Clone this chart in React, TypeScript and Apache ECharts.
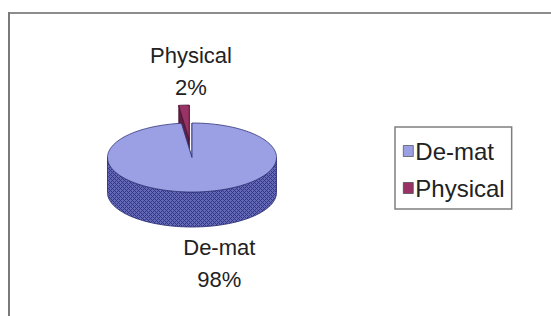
import React, { useEffect, useRef } from "react";
import * as echarts from "echarts";

// ---- data ----
const categories = ["De-mat", "Physical"];
const values = [98, 2];
const explodedSlices = ["Physical"];

// ---- style / layout ----
const FONT = "'Liberation Sans', Arial, Helvetica, sans-serif";
const TOP_COLORS = ["#9ba0e4", "#993366"];
const SIDE_COLORS = ["#4d519c", "#5e1f40"];
const SIDE_HATCH = [
  ["#6468b8", "#34377e"],
  ["#7a2a52", "#4a1030"],
];
const EDGE_COLORS = ["#2e3175", "#4a1030"];
const PIE = { cx: 192, cy: 157.5, rx: 84.5, ry: 34.5, depth: 35, explode: 0.52 };
const LABEL_NUDGE = { front: [22, 5], back: [7, -2] };

const TAU = Math.PI * 2;

function hatchFill(i: number): any {
  try {
    const c = document.createElement("canvas");
    c.width = 4;
    c.height = 4;
    const ctx = c.getContext("2d");
    if (!ctx) return SIDE_COLORS[i];
    ctx.fillStyle = SIDE_HATCH[i][0];
    ctx.fillRect(0, 0, 4, 4);
    ctx.fillStyle = SIDE_HATCH[i][1];
    // diamond cross-hatch
    ctx.fillRect(0, 0, 1, 1);
    ctx.fillRect(1, 1, 1, 1);
    ctx.fillRect(2, 2, 1, 1);
    ctx.fillRect(3, 3, 1, 1);
    ctx.fillRect(3, 1, 1, 1);
    ctx.fillRect(1, 3, 1, 1);
    return { image: c, repeat: "repeat" };
  } catch (e) {
    return SIDE_COLORS[i];
  }
}

function makeRenderItem(i: number, sideFill: any) {
  return (_params: any, api: any) => {
    const total = values.reduce((a, b) => a + b, 0);
    const before = values.slice(0, i).reduce((a, b) => a + b, 0);
    const v = api.value(0);
    const a0 = (before / total) * TAU;
    const a1 = ((before + v) / total) * TAU;
    const mid = (a0 + a1) / 2;
    const ex = explodedSlices.includes(categories[i]) ? PIE.explode : 0;
    const cx = PIE.cx + ex * PIE.rx * Math.sin(mid);
    const cy = PIE.cy - ex * PIE.ry * Math.cos(mid);
    const d = PIE.depth;
    const pt = (t: number, dy = 0) => [cx + PIE.rx * Math.sin(t), cy - PIE.ry * Math.cos(t) + dy];
    const arcPts = (s: number, e: number, dy = 0) => {
      const n = Math.max(2, Math.ceil((e - s) / (Math.PI / 120)));
      const out: number[][] = [];
      for (let k = 0; k <= n; k++) out.push(pt(s + ((e - s) * k) / n, dy));
      return out;
    };
    const children: any[] = [];
    const side = SIDE_COLORS[i];
    const edge = EDGE_COLORS[i];
    // radial faces
    [a0, a1].forEach((t) => {
      const p = pt(t);
      children.push({
        type: "polygon",
        shape: { points: [[cx, cy], p, [p[0], p[1] + d], [cx, cy + d]] },
        style: { fill: side, stroke: edge, lineWidth: 0.6 },
        z2: 1,
      });
    });
    // front band
    const f0 = Math.max(a0, Math.PI / 2);
    const f1 = Math.min(a1, Math.PI * 1.5);
    if (f1 > f0) {
      const topArc = arcPts(f0, f1);
      const botArc = arcPts(f0, f1, d).reverse();
      children.push({
        type: "polygon",
        shape: { points: topArc.concat(botArc) },
        style: { fill: sideFill, stroke: edge, lineWidth: 0.9 },
        z2: 2,
      });
    }
    // top face
    const topPts = [[cx, cy]].concat(arcPts(a0, a1));
    children.push({
      type: "polygon",
      shape: { points: topPts },
      style: { fill: TOP_COLORS[i], stroke: edge, lineWidth: 0.8 },
      z2: 3,
    });
    // label
    const pct = Math.round((v / total) * 100) + "%";
    const front = Math.cos(mid) < 0;
    const anchor = pt(mid, front ? d : 0);
    const nudge = front ? LABEL_NUDGE.front : LABEL_NUDGE.back;
    children.push({
      type: "text",
      x: anchor[0] + nudge[0],
      y: anchor[1] + nudge[1],
      style: {
        text: categories[i] + "\n" + pct,
        fontSize: 22,
        lineHeight: 32,
        fontFamily: FONT,
        fill: "#222",
        align: "center",
        verticalAlign: front ? "top" : "bottom",
      },
      z2: 10,
    });
    return { type: "group", children };
  };
}

export default function App() {
  const ref = useRef<HTMLDivElement>(null);
  useEffect(() => {
    if (!ref.current) return;
    const chart = echarts.init(ref.current, undefined, { renderer: "svg" });
    const total = values.reduce((a, b) => a + b, 0);
    const series = categories.map((name, i) => {
      const before = values.slice(0, i).reduce((a, b) => a + b, 0);
      const mid = ((before + values[i] / 2) / total) * TAU;
      return {
        type: "custom",
        name,
        coordinateSystem: "none",
        data: [[values[i]]],
        renderItem: makeRenderItem(i, hatchFill(i)),
        itemStyle: { color: TOP_COLORS[i] },
        z: Math.cos(mid) < 0 ? 3 : 2,
      };
    });
    chart.setOption({
      animation: false,
      backgroundColor: "#ffffff",
      color: TOP_COLORS,
      graphic: [
        { type: "line", shape: { x1: 8, y1: 13, x2: 551, y2: 13 }, style: { stroke: "#8c8c8c", lineWidth: 2 }, z: 0 },
        { type: "line", shape: { x1: 9, y1: 12, x2: 9, y2: 316 }, style: { stroke: "#7a7a7a", lineWidth: 2 }, z: 0 },
      ],
      legend: {
        data: categories,
        orient: "vertical",
        left: 395,
        top: 127,
        icon: "rect",
        itemWidth: 10,
        itemHeight: 11,
        itemGap: 13,
        padding: [12, 7, 9, 8],
        borderColor: "#7f7f7f",
        borderWidth: 1.5,
        backgroundColor: "#ffffff",
        itemStyle: { borderColor: "#333", borderWidth: 0.6 },
        textStyle: { fontFamily: FONT, fontSize: 24, lineHeight: 24, color: "#222", padding: [0, 0, 0, -3] },
        selectedMode: false,
      },
      series,
    });
    return () => chart.dispose();
  }, []);
  return <div ref={ref} style={{ position: "absolute", left: 0, top: 0, width: 551, height: 316 }} />;
}
